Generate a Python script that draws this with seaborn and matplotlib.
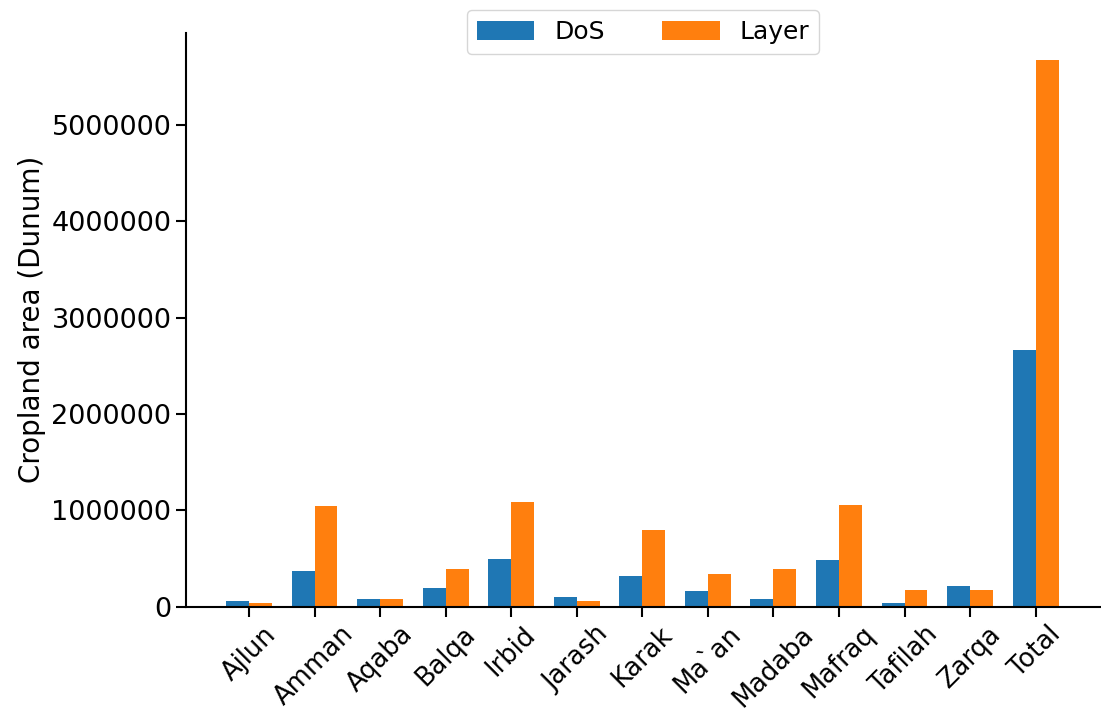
import matplotlib
matplotlib.use("Agg")
import matplotlib.pyplot as plt
import seaborn as sns
import pandas as pd

# Governorates and cropland area estimates (Dunum)
regions = ["Ajlun", "Amman", "Aqaba", "Balqa", "Irbid", "Jarash", "Karak",
           "Ma`an", "Madaba", "Mafraq", "Tafilah", "Zarqa", "Total"]
dos = [63000, 376000, 84000, 199000, 491000, 105000, 324000,
       167000, 84000, 481000, 42000, 220000, 2666000]
layer = [42000, 1045000, 84000, 387000, 1087000, 63000, 794000,
         345000, 387000, 1055000, 178000, 178000, 5674000]

df = pd.DataFrame({
    "region": regions * 2,
    "area": dos + layer,
    "source": ["DoS"] * len(regions) + ["Layer"] * len(regions),
})

sns.set_style("ticks")
plt.rcParams["font.family"] = ["DejaVu Sans"]
plt.rcParams["text.color"] = "black"
plt.rcParams["axes.labelcolor"] = "black"
plt.rcParams["xtick.color"] = "black"
plt.rcParams["ytick.color"] = "black"
plt.rcParams["axes.edgecolor"] = "black"

fig, ax = plt.subplots(figsize=(11.01, 7.13), dpi=100)
fig.subplots_adjust(left=0.169, right=0.999, top=0.954, bottom=0.149)

sns.barplot(data=df, x="region", y="area", hue="source",
            palette=["#1f77b4", "#ff7f0e"], width=0.7, saturation=1,
            linewidth=0, ax=ax)

ax.set_xlim(-0.96, 12.98)
ax.set_xlabel("")
ax.set_ylabel("Cropland area (Dunum)", fontsize=20)
ax.ticklabel_format(axis="y", style="plain")
ax.tick_params(axis="both", length=7, width=1.5)
ax.tick_params(axis="y", labelsize=19.5)
ax.tick_params(axis="x", labelsize=18.5, labelrotation=45)
for sp in ["left", "bottom"]:
    ax.spines[sp].set_linewidth(1.5)
sns.despine(ax=ax)

ax.legend(loc="upper center", bbox_to_anchor=(0.5, 1.04), borderaxespad=0,
          ncol=2, fontsize=18, handlelength=2.3, handleheight=0.8,
          columnspacing=2.3, frameon=True, title=None)

fig.savefig("out.png", dpi=100)
